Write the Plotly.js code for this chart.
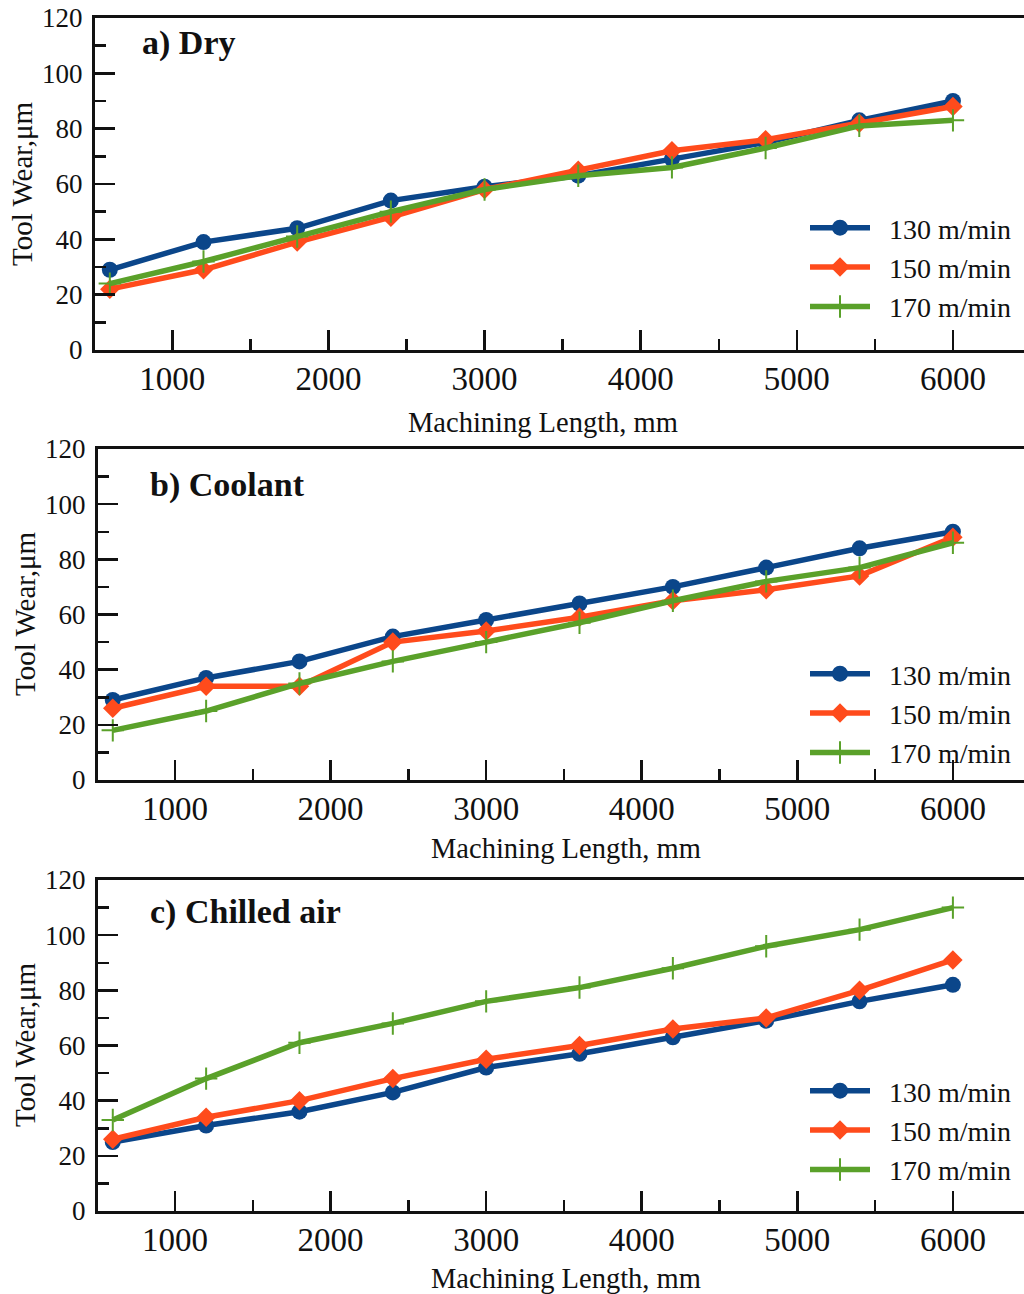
<!DOCTYPE html>
<html><head><meta charset="utf-8">
<script src="https://cdn.plot.ly/plotly-3.0.1.min.js"></script>
<style>body{margin:0;background:#fff}#c{width:1024px;height:1294px}</style>
</head><body><div id="c"></div>
<script>
const lengths = [600,1200,1800,2400,3000,3600,4200,4800,5400,6000];
const seriesNames = ["130 m/min","150 m/min","170 m/min"];
const panelTitles = ["a) Dry","b) Coolant","c) Chilled air"];
const xTitle = "Machining Length, mm";
const yTitle = "Tool Wear,μm";
// a) Dry
const dry130 = [29,39,44,54,59,63,69,75,83,90];
const dry150 = [22,29,39,48,58,65,72,76,82,88];
const dry170 = [24,32,41,50,58,63,66,73,81,83];
// b) Coolant
const cool130 = [29,37,43,52,58,64,70,77,84,90];
const cool150 = [26,34,34,50,54,59,65,69,74,88];
const cool170 = [18,25,35,43,50,57,65,72,77,86];
// c) Chilled air
const chill130 = [25,31,36,43,52,57,63,69,76,82];
const chill150 = [26,34,40,48,55,60,66,70,80,91];
const chill170 = [33,48,61,68,76,81,88,96,102,110];

const W=1024,H=1294;
const FONT="Liberation Serif";
const colors=["#0b468a","#ff4b1c","#5aa12a"];
const symbols=["circle","diamond","cross-thin"];
const msizes=[16,15,16];
const panels=[
 {data:[dry130,dry150,dry170], top:18, bottom:350, left:95, xr:[505,6455], leg:203, xt:[543,422], yt:[22,184], pt:[140,43]},
 {data:[cool130,cool150,cool170], top:449, bottom:780, left:98, xr:[505,6457], leg:649, xt:[566,848], yt:[25,614], pt:[148,485]},
 {data:[chill130,chill150,chill170], top:880, bottom:1211, left:98, xr:[505,6457], leg:1066, xt:[566,1278], yt:[25,1045], pt:[148,912]}
];
const traces=[]; const layout={width:W,height:H,margin:{l:0,r:0,t:0,b:0},paper_bgcolor:"#fff",plot_bgcolor:"#fff",showlegend:true,annotations:[],font:{family:FONT,color:"#111"}};
panels.forEach((p,i)=>{
  const n=i+1, xa="xaxis"+(n>1?n:""), ya="yaxis"+(n>1?n:""), lg="legend"+(n>1?n:"");
  p.data.forEach((d,j)=>{
    traces.push({x:lengths,y:d,type:"scatter",mode:"lines+markers",name:"\u2002"+seriesNames[j],
      xaxis:"x"+(n>1?n:""),yaxis:"y"+(n>1?n:""),legend:lg,
      line:{color:colors[j],width:5.5},
      marker:{symbol:symbols[j],size:msizes[j],color:colors[j],line:{color:colors[j],width:j==2?2:0}}});
  });
  layout[xa]={domain:[p.left/W,1],range:p.xr,anchor:"y"+(n>1?n:""),showline:true,linewidth:3,linecolor:"#111",mirror:true,
    ticks:"inside",ticklen:20,tickwidth:2.5,tickcolor:"#111",tick0:0,dtick:1000,showgrid:false,zeroline:false,
    tickfont:{size:33,family:FONT,color:"#111"},ticklabelstandoff:-3,
    minor:{ticks:"inside",ticklen:11,tickwidth:2.5,tickcolor:"#111",dtick:500,tick0:0,showgrid:false}};
  layout[ya]={domain:[1-p.bottom/H,1-p.top/H],range:[0,120],anchor:"x"+(n>1?n:""),showline:true,linewidth:3,linecolor:"#111",
    ticks:"inside",ticklen:20,tickwidth:2.5,tickcolor:"#111",dtick:20,tick0:0,showgrid:false,zeroline:false,
    tickfont:{size:27,family:FONT,color:"#111"},ticklabelstandoff:4,
    minor:{ticks:"inside",ticklen:11,tickwidth:2.5,tickcolor:"#111",dtick:10,tick0:0,showgrid:false}};
  layout[lg]={x:805/W,y:1-p.leg/H,xanchor:"left",yanchor:"top",bgcolor:"rgba(0,0,0,0)",font:{size:28,family:FONT,color:"#111"},itemwidth:60,tracegroupgap:0};
  layout.annotations.push({text:xTitle,xref:"paper",yref:"paper",x:p.xt[0]/W,y:1-p.xt[1]/H,xanchor:"center",yanchor:"middle",showarrow:false,font:{size:28.5,family:FONT,color:"#111"}});
  layout.annotations.push({text:yTitle,xref:"paper",yref:"paper",x:p.yt[0]/W,y:1-p.yt[1]/H,xanchor:"center",yanchor:"middle",textangle:-90,showarrow:false,font:{size:29,family:FONT,color:"#111"}});
  layout.annotations.push({text:"<b>"+panelTitles[i]+"</b>",xref:"paper",yref:"paper",x:p.pt[0]/W,y:1-p.pt[1]/H,xanchor:"left",yanchor:"middle",showarrow:false,font:{size:34,family:FONT,color:"#111"}});
});
Plotly.newPlot("c",traces,layout,{staticPlot:true});
</script></body></html>
